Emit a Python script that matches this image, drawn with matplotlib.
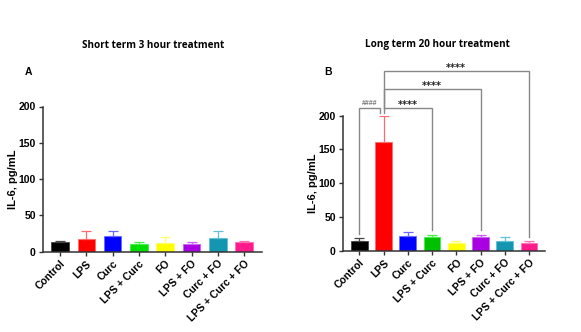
import matplotlib
matplotlib.use("Agg")
import matplotlib.pyplot as plt
import numpy as np

categories = ["Control", "LPS", "Curc", "LPS + Curc", "FO", "LPS + FO", "Curc + FO", "LPS + Curc + FO"]
short_means = [13.7, 17.4, 22.0, 10.0, 12.4, 11.0, 18.8, 13.3]
short_errs = [1.5, 10.6, 6.0, 3.0, 7.3, 2.0, 9.2, 1.3]
long_means = [14.3, 161.0, 22.2, 19.8, 10.9, 20.2, 14.8, 11.4]
long_errs = [4.0, 38.0, 5.8, 4.2, 3.4, 3.8, 6.2, 3.4]
colors_a = ["#000000", "#ff0000", "#0000ff", "#00dd00", "#ffff00", "#a800e0", "#1496b0", "#ff1a8c"]
colors_b = ["#000000", "#ff0000", "#0000ff", "#00c000", "#ffff00", "#a800e0", "#1496b0", "#ff1a8c"]
err_colors = ["#444444", "#ff6a6a", "#6a6aff", "#44ee44", "#ffff66", "#c860f0", "#60c0d8", "#ff70b0"]
yticks = [0, 50, 100, 150, 200]
# comparisons: (i, j, label)
comparisons = [(0, 1, "####"), (1, 3, "****"), (1, 5, "****"), (1, 7, "****")]
bracket_levels = [211, 211, 239, 266]

W, H = 581, 332
fig = plt.figure(figsize=(W/100, H/100), dpi=100)

tick_font = dict(family="Liberation Sans", weight="bold", size=7.5)

def style_axes(ax, xlim, width_px):
    ax.set_xlim(*xlim)
    ax.set_ylim(0, 200)
    for s in ["top", "right"]:
        ax.spines[s].set_visible(False)
    for s in ["left", "bottom"]:
        ax.spines[s].set_color("#333333")
        ax.spines[s].set_linewidth(1.1)
    ax.set_yticks(yticks)
    ax.set_yticklabels([str(t) for t in yticks], fontdict=tick_font)
    ax.set_xticks(np.arange(len(categories)))
    ax.set_xticklabels(categories, rotation=45, ha="right", rotation_mode="anchor", fontdict=tick_font)
    ax.tick_params(axis="both", direction="out", length=3, width=1.0, color="#333333", pad=2)
    ax.set_ylabel("IL-6, pg/mL", fontdict=dict(family="Liberation Sans", weight="bold", size=8))
    ax.yaxis.set_label_coords(-24.5 / width_px, 0.5)
    ax.patch.set_alpha(0)

def draw_bars(ax, means, errs, cols, width):
    x = np.arange(len(categories))
    for i in range(len(categories)):
        ax.bar(x[i], means[i], width=width, color=cols[i], edgecolor=err_colors[i], linewidth=0.6, zorder=2)
        ax.errorbar(x[i], means[i], yerr=[[0], [errs[i]]], fmt="none", ecolor=err_colors[i],
                    elinewidth=0.9, capsize=3.5, capthick=0.9, zorder=3)

# Panel A
a_left, a_right = 42.7, 262.0
axA = fig.add_axes([a_left/W, (H-251.7)/H, (a_right-a_left)/W, (251.7-106.5)/H])
style_axes(axA, (-0.66, 7.68), a_right - a_left)
draw_bars(axA, short_means, short_errs, colors_a, 0.67)

# Panel B
b_left, b_right = 342.7, 545.0
axB = fig.add_axes([b_left/W, (H-250.7)/H, (b_right-b_left)/W, (250.7-115.7)/H])
style_axes(axB, (-0.685, 7.66), b_right - b_left)
draw_bars(axB, long_means, long_errs, colors_b, 0.69)

line_c = "#888888"
tops = [m + e for m, e in zip(long_means, long_errs)]
for (i, j, lab), lvl in zip(comparisons, bracket_levels):
    xi = i
    xj = j - 0.15 if j == 1 else j
    yi = tops[i] + 6 if i != 1 else 204
    yj = tops[j] + 6 if j != 1 else 204
    if i == 1 and lvl > 215:
        yi = bracket_levels[0]
    axB.plot([xi, xi, xj, xj], [yi, lvl, lvl, yj], color=line_c, lw=1.0, clip_on=False, zorder=4,
             solid_joinstyle="miter")
    if lab.startswith("#"):
        axB.text((xi + xj) / 2, lvl + 5.5, lab, ha="center", va="baseline", fontsize=5,
                 color="#777777", family="Liberation Sans", fontweight="bold", clip_on=False)
    else:
        axB.text((xi + xj) / 2, lvl + 0.5, lab, ha="center", va="baseline", fontsize=7,
                 color="#222222", family="DejaVu Sans", fontweight="bold", clip_on=False)

title_font = dict(family="Open Sans", weight="bold", size=7.1)
fig.text(153/W, 1 - 45/H, "Short term 3 hour treatment", ha="center", va="center", **title_font)
fig.text(437/W, 1 - 45/H, "Long term 20 hour treatment", ha="center", va="center", **title_font)
fig.text(28.3/W, 1 - 71.7/H, "A", ha="center", va="center", family="Liberation Sans", weight="bold", size=7.5)
fig.text(328.3/W, 1 - 71.7/H, "B", ha="center", va="center", family="Liberation Sans", weight="bold", size=7.5)

fig.savefig("out.png", dpi=100)
